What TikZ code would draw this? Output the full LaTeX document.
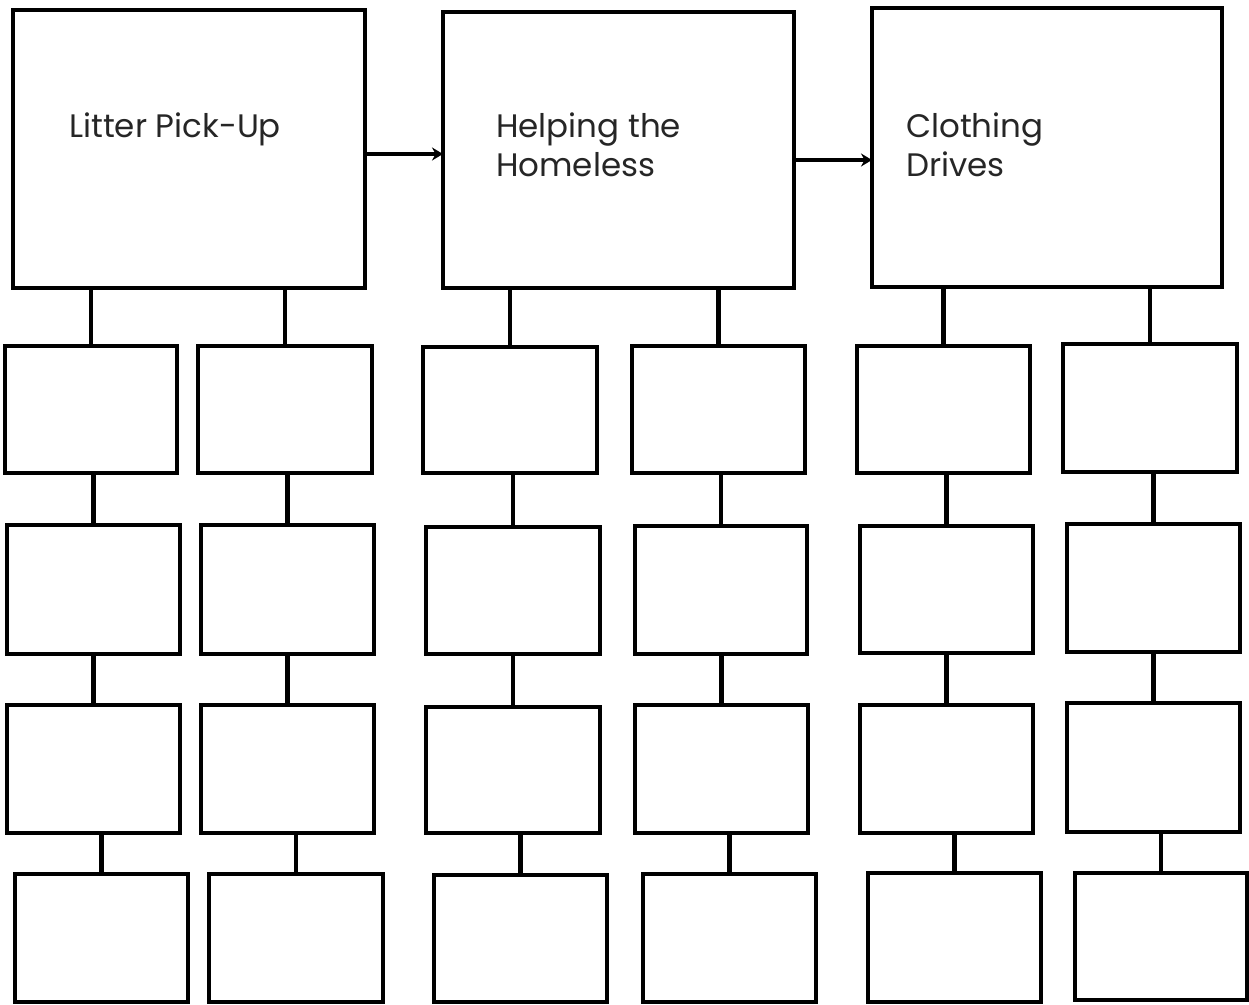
\documentclass[tikz,border=0pt]{standalone}
\usepackage{fontspec}
\setmainfont{Poppins}
\usetikzlibrary{arrows.meta}
\tikzset{
  sbox/.style={draw=black, line width=4.5pt, fill=white, inner sep=0pt, outer sep=0pt, anchor=north west},
  link/.style={draw=black, line width=4.5pt},
  flow/.style={draw=black, line width=4.5pt, -{Stealth[length=11pt,width=13pt]}},
  lbl/.style={anchor=base west, inner sep=0pt, text=black!85, font=\fontsize{32.5}{39}\selectfont, align=left}
}
\newcommand\bx[5]{\node[sbox, minimum width={#4pt-#2pt}, minimum height={#5pt-#3pt}] (#1) at (#2pt,-#3pt) {};}
\begin{document}
\begin{tikzpicture}[x=1pt,y=1pt]
\useasboundingbox (0,0) rectangle (1249,-1004);
% top boxes
\bx{A}{13}{10}{365}{288}
\bx{B}{443}{12}{794}{288}
\bx{C}{872}{8}{1222}{287}
\node[lbl] (tA) at (69,-137) {Litter Pick-Up};
\node[lbl] (tB) at (496,-176) {Helping the\\Homeless};
\node[lbl] (tC) at (906,-176) {Clothing\\Drives};
% column 1
\bx{a1}{5}{346}{177}{473}
\bx{a2}{7}{525}{180}{654}
\bx{a3}{7}{705}{180}{833}
\bx{a4}{15}{874}{188}{1002}
% column 2
\bx{b1}{198}{346}{372}{473}
\bx{b2}{201}{525}{374}{654}
\bx{b3}{201}{705}{374}{833}
\bx{b4}{209}{874}{383}{1002}
% column 3
\bx{c1}{423}{347}{597}{473}
\bx{c2}{426}{527}{600}{654}
\bx{c3}{426}{707}{600}{833}
\bx{c4}{434}{875}{607}{1002}
% column 4
\bx{d1}{632}{346}{805}{473}
\bx{d2}{635}{526}{807}{654}
\bx{d3}{635}{705}{808}{833}
\bx{d4}{643}{874}{816}{1002}
% column 5
\bx{e1}{857}{346}{1030}{473}
\bx{e2}{860}{526}{1033}{653}
\bx{e3}{860}{705}{1033}{833}
\bx{e4}{868}{873}{1041}{1002}
% column 6
\bx{f1}{1063}{344}{1237}{472}
\bx{f2}{1067}{524}{1240}{652}
\bx{f3}{1067}{703}{1240}{832}
\bx{f4}{1075}{873}{1247}{1000}
% connectors
\foreach \p/\c in {A/a1,A/b1,B/c1,B/d1,C/e1,C/f1,
  a1/a2,a2/a3,a3/a4,b1/b2,b2/b3,b3/b4,c1/c2,c2/c3,c3/c4,
  d1/d2,d2/d3,d3/d4,e1/e2,e2/e3,e3/e4,f1/f2,f2/f3,f3/f4}
  \draw[link] (\c.north) -- (\c.north |- \p.south);
% arrows
\draw[flow] ([yshift=-5pt]A.east) -- ([yshift=-5pt]A.east -| B.west);
\draw[flow] ([yshift=-10pt]B.east) -- ([yshift=-10pt]B.east -| C.west);
\end{tikzpicture}
\end{document}
